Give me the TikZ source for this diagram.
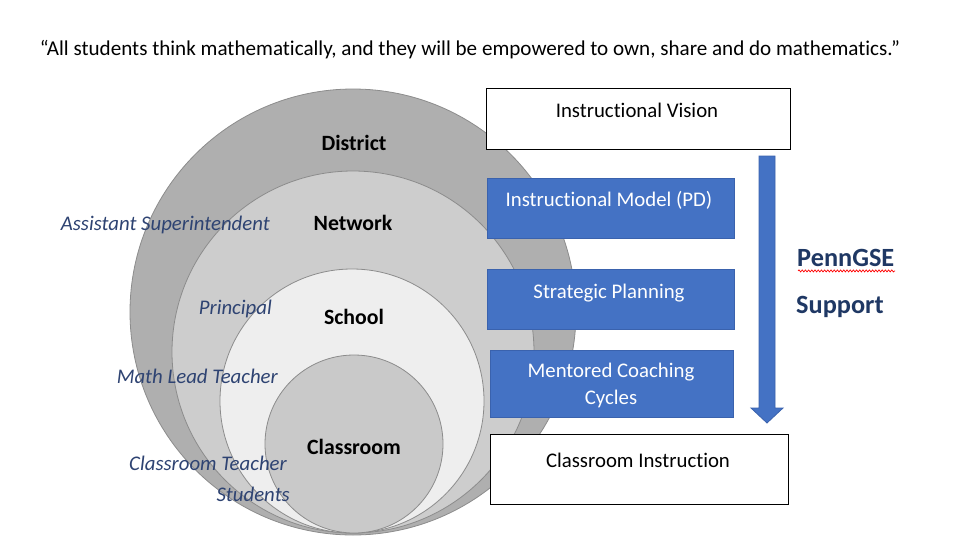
\documentclass[tikz,border=0pt]{standalone}
\usepackage{fontspec}
\setmainfont{Carlito}[Ligatures={NoCommon}]
\usetikzlibrary{decorations.pathmorphing}
\definecolor{blu}{HTML}{4472C4}
\definecolor{bluedge}{HTML}{3A62AD}
\definecolor{lblc}{HTML}{2E4372}
\definecolor{navy}{HTML}{1F3864}
\definecolor{gA}{HTML}{AFAFAF}
\definecolor{gB}{HTML}{CDCDCD}
\definecolor{gC}{HTML}{EEEEEE}
\definecolor{gD}{HTML}{C9C9C9}
\definecolor{ring}{HTML}{8C8C8C}
\begin{document}
\begin{tikzpicture}[x=1pt,y=-1pt,
  ringc/.style={circle,draw=ring,line width=0.8pt,inner sep=0pt},
  whitebox/.style={draw=black,line width=1.4pt,fill=white,inner sep=0pt,anchor=north west},
  bluebox/.style={draw=bluedge,line width=0.8pt,fill=blu,inner sep=0pt,anchor=north west},
  boxtxt/.style={inner sep=0pt,font=\fontsize{20.8}{27}\selectfont,align=center},
  lvl/.style={inner sep=0pt,font=\fontsize{21.8}{24}\selectfont\bfseries},
  role/.style={inner sep=0pt,font=\fontsize{20.8}{24}\selectfont\itshape,text=lblc,anchor=east},
  side/.style={inner sep=0pt,font=\fontsize{26.3}{30}\selectfont\bfseries,text=navy,anchor=west}]
\useasboundingbox (0,0) rectangle (975,555);
\fill[white] (0,0) rectangle (975,555);
% quote
\node[inner sep=0pt,font=\fontsize{21.1}{24}\selectfont] (quote) at (470,50)
  {“All students think mathematically, and they will be empowered to own, share and do mathematics.”};
% nested circles
\node[ringc,fill=gA,minimum size=446] (district) at (353,312) {};
\node[ringc,fill=gB,minimum size=362] (network) at (353,352) {};
\node[ringc,fill=gC,minimum size=264] (school) at (352,401) {};
\node[ringc,fill=gD,minimum size=178] (classroom) at (354,444) {};
\node[lvl] (tdistrict) at (354,143) {District};
\node[lvl] (tnetwork) at (353,223) {Network};
\node[lvl] (tschool) at (354,317) {School};
\node[lvl] (tclassroom) at (354,447) {Classroom};
% roles
\node[role] (r1) at (270,225) {Assistant Superintendent};
\node[role] (r2) at (272,309) {Principal};
\node[role] (r3) at (278,376) {Math Lead Teacher};
\node[role] (r4) at (287,463) {Classroom Teacher};
\node[role] (r5) at (290,494) {Students};
% boxes
\node[whitebox,minimum width=304,minimum height=61] (vision) at (486,88) {};
\node[boxtxt] (tvision) at (637,110) {Instructional Vision};
\node[bluebox,minimum width=247,minimum height=60] (model) at (487,178) {};
\node[boxtxt,text=white] (tmodel) at (609,200) {Instructional Model (PD)};
\node[bluebox,minimum width=247,minimum height=60] (plan) at (487,269) {};
\node[boxtxt,text=white] (tplan) at (609,293) {Strategic Planning};
\node[bluebox,minimum width=243,minimum height=67] (coach) at (490,350) {};
\node[boxtxt,text=white] (tcoach) at (611,385) {Mentored Coaching\\Cycles};
\node[whitebox,minimum width=298,minimum height=70] (instr) at (490,434) {};
\node[boxtxt] (tinstr) at (638,460) {Classroom Instruction};
% arrow
\filldraw[fill=blu,draw=bluedge,line width=0.8pt]
  (759,156) -- (775,156) -- (775,408) -- (783,408) -- (767,423) -- (751,408) -- (759,408) -- cycle;
% side text
\node[side] (penn) at (797,258) {PennGSE};
\node[side] (support) at (796,307) {Support};
\draw[red,line width=0.7pt,decorate,decoration={snake,amplitude=1pt,segment length=3.2pt}]
  (penn.south west) ++(1,4) -- ++(97,0);
\end{tikzpicture}
\end{document}
